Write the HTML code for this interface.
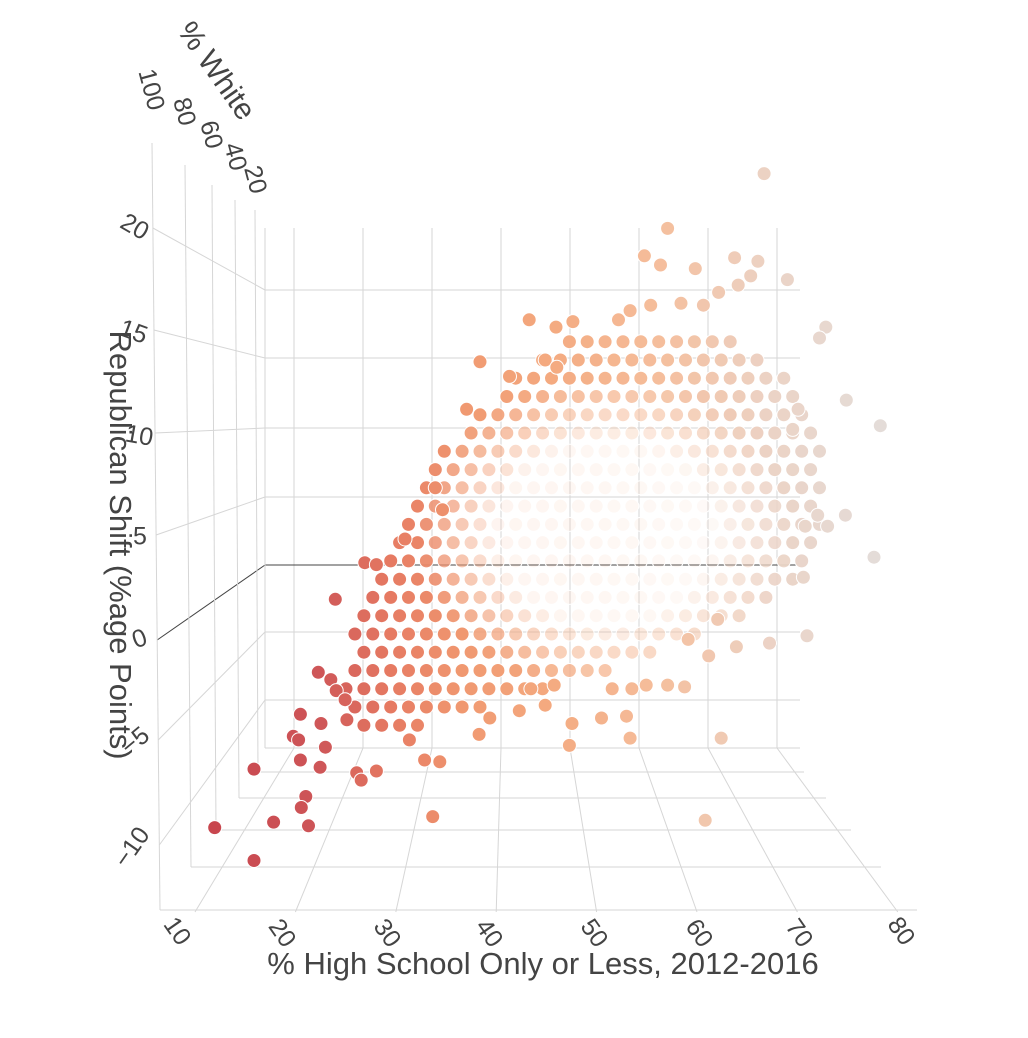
<!DOCTYPE html>
<html><head><meta charset="utf-8"><style>
html,body{margin:0;padding:0;background:#fff;}
svg{display:block;font-family:"Liberation Sans","DejaVu Sans",sans-serif;}
</style></head><body>
<svg id="chart" width="1028" height="1038" viewBox="0 0 1028 1038">
<g id="grid"></g>
<g id="marks"></g>
<g id="labels"></g>
</svg>
<script>
// ---- data (x = % High School Only or Less, y = Republican Shift) ----
const outlierHs = [69.8,59.0,56.4,58.2,62.1,66.5,69.1,72.4,68.3,66.9,64.7,63.0,60.5,57.1,54.8,53.5,48.4,46.5,43.5,45.3,46.6,38.0,41.3,36.5,76.7,76.0,79.0,82.8,73.6,73.0,75.8,78.9,74.4,76.9,82.1,74.2,74.6,70.4,66.7,64.6,63.6,61.3,60.9,59.0,56.6,55.0,52.8,54.4,51.6,48.3,48.0,54.8,65.0,63.2,32.7,33.0,33.8,29.6,25.1,26.4,21.8,19.9,21.3,17.9,20.2,17.1,17.7,20.7,17.9,20.1,18.5,18.0,14.9,18.8,12.7,8.3,12.7,21.9,22.9,23.1,24.2,24.7,26.4,30.1,31.8,33.5,37.9,39.1,42.4,45.3,43.7,46.3];
const outlierShift = [24.2,21.2,19.7,19.2,19.0,19.6,19.4,18.4,18.6,18.1,17.7,17.0,17.1,17.0,16.7,16.2,16.1,15.8,16.2,14.0,13.6,13.9,13.1,11.3,15.8,15.2,11.8,10.4,11.3,10.2,5.5,5.5,4.9,4.9,3.2,2.1,-1.1,-1.5,-1.7,-0.2,-2.2,-1.3,-3.9,-3.8,-3.8,-4.0,-4.0,-5.5,-5.6,-5.9,-7.1,-6.7,-6.7,-11.2,-11.0,7.0,5.8,4.2,2.9,2.8,0.9,-3.1,-3.5,-5.4,-5.9,-6.6,-6.8,-7.2,-7.9,-8.3,-9.9,-10.5,-11.3,-11.5,-8.4,-11.6,-13.4,-4.1,-4.6,-5.7,-8.6,-9.0,-8.5,-6.8,-7.9,-8.0,-6.5,-5.6,-5.2,-4.9,-4.0,-3.8];
const cloudShift = [15,14,13,12,11,10,9,8,7,6,5,4,3,2,1,0,-1,-2,-3,-4,-5,-6];
const cloudHs = [
 [48,50,52,54,56,58,60,62,64,66],
 [45,47,49,51,53,55,57,59,61,63,65,67,69],
 [42,44,46,48,50,52,54,56,58,60,62,64,66,68,70,72],
 [41,43,45,47,49,51,53,55,57,59,61,63,65,67,69,71,73],
 [38,40,42,44,46,48,50,52,54,56,58,60,62,64,66,68,70,72,74],
 [37,39,41,43,45,47,49,51,53,55,57,59,61,63,65,67,69,71,73,75],
 [34,36,38,40,42,44,46,48,50,52,54,56,58,60,62,64,66,68,70,72,74,76],
 [33,35,37,39,41,43,45,47,49,51,53,55,57,59,61,63,65,67,69,71,73,75],
 [32,34,36,38,40,42,44,46,48,50,52,54,56,58,60,62,64,66,68,70,72,74,76],
 [31,33,35,37,39,41,43,45,47,49,51,53,55,57,59,61,63,65,67,69,71,73,75],
 [30,32,34,36,38,40,42,44,46,48,50,52,54,56,58,60,62,64,66,68,70,72,74,76],
 [29,31,33,35,37,39,41,43,45,47,49,51,53,55,57,59,61,63,65,67,69,71,73,75],
 [28,30,32,34,36,38,40,42,44,46,48,50,52,54,56,58,60,62,64,66,68,70,72,74],
 [27,29,31,33,35,37,39,41,43,45,47,49,51,53,55,57,59,61,63,65,67,69,71,73],
 [26,28,30,32,34,36,38,40,42,44,46,48,50,52,54,56,58,60,62,64,66,68,70],
 [25,27,29,31,33,35,37,39,41,43,45,47,49,51,53,55,57,59,61,63,65,67],
 [24,26,28,30,32,34,36,38,40,42,44,46,48,50,52,54,56,58,60,62],
 [25,27,29,31,33,35,37,39,41,43,45,47,49,51,53,55,57],
 [24,26,28,30,32,34,36,38,40,42,44,46,48,50,52],
 [23,25,27,29,31,33,35,37,39,41,43,45],
 [24,26,28,30,32,34,36,38],
 [25,27,29,31]
];
const xTicks = [10,20,30,40,50,60,70,80];
const yTicks = [20,15,10,5,0,-5,-10];
const yTickLabels = ["20","15","10","5","0","\u22125","\u221210"];
const zTicks = [100,80,60,40,20];
const ASSUMED_WHITE = 75;
const CLOUD_CENTER_HS = 52, CLOUD_CENTER_SHIFT = 4.5;

const NS = "http://www.w3.org/2000/svg";
function mk(tag, attrs, parent){const e=document.createElementNS(NS,tag);for(const k in attrs)e.setAttribute(k,attrs[k]);parent.appendChild(e);return e;}

const depthW=[100,80,60,40,20,12], depthT=[0,0.29,0.53,0.73,0.91,1];
function depth(w){for(let i=0;i<depthW.length-1;i++){if(w>=depthW[i+1]){const f=(depthW[i]-w)/(depthW[i]-depthW[i+1]);return depthT[i]+f*(depthT[i+1]-depthT[i]);}}return 1;}
function px(hs,w){const t=depth(w);return (1-t)*(95+10.03*hs)+t*(225+6.9*hs);}
function py(s,w){const t=depth(w);return (1-t)*(643-20.7*s)+t*(565-13.75*s);}

const cStops=[[8,[200,70,78]],[20,[206,86,88]],[28,[230,122,98]],[36,[240,152,112]],[46,[244,170,128]],[58,[245,190,156]],[70,[236,210,196]],[82,[228,220,216]]];
function color(hs){if(hs<=cStops[0][0])return rgb(cStops[0][1]);for(let i=0;i<cStops.length-1;i++){const a=cStops[i],b=cStops[i+1];if(hs<=b[0]){const f=(hs-a[0])/(b[0]-a[0]);return rgb(a[1].map((v,j)=>v+f*(b[1][j]-v)));}}return rgb(cStops[cStops.length-1][1]);}
function rgb(c){return "rgb("+c.map(v=>Math.round(v)).join(",")+")";}

// ---- grid ----
const grid=document.getElementById("grid");
function line(x1,y1,x2,y2,col,w,name){const l=mk("line",{x1,y1,x2,y2,stroke:col,"stroke-width":w},grid);

}
const GC="#d6d6d6";
const backY={20:290,15:358,10:428,5:497,0:565,"-5":632,"-10":700};
const frontY={20:228,15:330,10:433,5:535,0:640,"-5":740,"-10":845};
xTicks.forEach(h=>{const bx=225+6.9*h;line(bx,228,bx,748,GC,1,"back-wall-x-gridline");
 const fx=195+10.04*(h-10);line(bx,748,fx,912,GC,1,"floor-x-gridline");});
yTicks.forEach(v=>{const by=backY[v],fy=frontY[v];const fx=152+8*(fy-143)/767;
 const col=v===0?"#444":GC;line(265,by,800,by,col,1,v===0?"zero-line":"back-wall-y-gridline");
 line(fx,fy,265,by,col,1,v===0?"zero-line-left":"left-wall-y-gridline");});
line(265,228,265,748,GC,1,"back-wall-left-edge");
line(265,748,800,748,GC,1,"back-wall-bottom-edge");
const zTop=[[152,143],[185,165],[212,185],[235,200],[255,210]];
const zBot=[[160,910],[191,867],[216,830],[239,798],[258,772]];
const zRight=[917,881,851,826,804];
zTicks.forEach((w,i)=>{line(zTop[i][0],zTop[i][1],zBot[i][0],zBot[i][1],GC,1,"left-wall-z-gridline");
 line(zBot[i][0],zBot[i][1],zRight[i],zBot[i][1],GC,1,"floor-z-gridline");});

// ---- points ----
const marks=document.getElementById("marks");
function point(hs,s,name,op){const c=mk("circle",{cx:px(hs,ASSUMED_WHITE).toFixed(1),cy:py(s,ASSUMED_WHITE).toFixed(1),r:7,fill:color(hs),"fill-opacity":op,stroke:"#fff","stroke-width":1},marks);

}
cloudShift.forEach((s,i)=>{cloudHs[i].forEach(h=>{
  const d=Math.sqrt(Math.pow((h-CLOUD_CENTER_HS)/22,2)+Math.pow((s-CLOUD_CENTER_SHIFT)/9,2));
  const op=Math.max(0.1,Math.min(1,(d-0.5)/0.45));
  point(h,s,"county-point",op.toFixed(2));});});
outlierHs.forEach((h,i)=>point(h,outlierShift[i],"county-point",1));

// ---- labels ----
const labels=document.getElementById("labels");
function txt(str,x,y,rot,size,name){const t=mk("text",{x:0,y:0,"font-size":size,fill:"#444","text-anchor":"middle","dominant-baseline":"middle",transform:`translate(${x},${y}) rotate(${rot})`},labels);t.textContent=str;

return t;}
const xLabPos=[[176,932],[281,934],[386,934],[488,934],[593,934],[698,934],[798,934],[900,932]];
xTicks.forEach((v,i)=>txt(String(v),xLabPos[i][0],xLabPos[i][1],55,25,"x-tick-label"));
const yLabPos=[[134,228],[133,333],[139,437],[140,538],[140,640],[136,742],[133,848]];
const yRot=[30,20,10,0,-20,-40,-55];
yTickLabels.forEach((v,i)=>txt(v,yLabPos[i][0],yLabPos[i][1],yRot[i],25,"y-tick-label"));
const zLabPos=[[150,90],[183,112],[210,135],[234,157],[254,180]];
zTicks.forEach((v,i)=>txt(String(v),zLabPos[i][0],zLabPos[i][1],75,25,"z-tick-label"));
txt("% White",215,72,55,30,"z-axis-title");
txt("Republican Shift (%age Points)",118,545,90,31,"y-axis-title");
txt("% High School Only or Less, 2012-2016",543,966,0,31,"x-axis-title");
</script>
</body></html>
